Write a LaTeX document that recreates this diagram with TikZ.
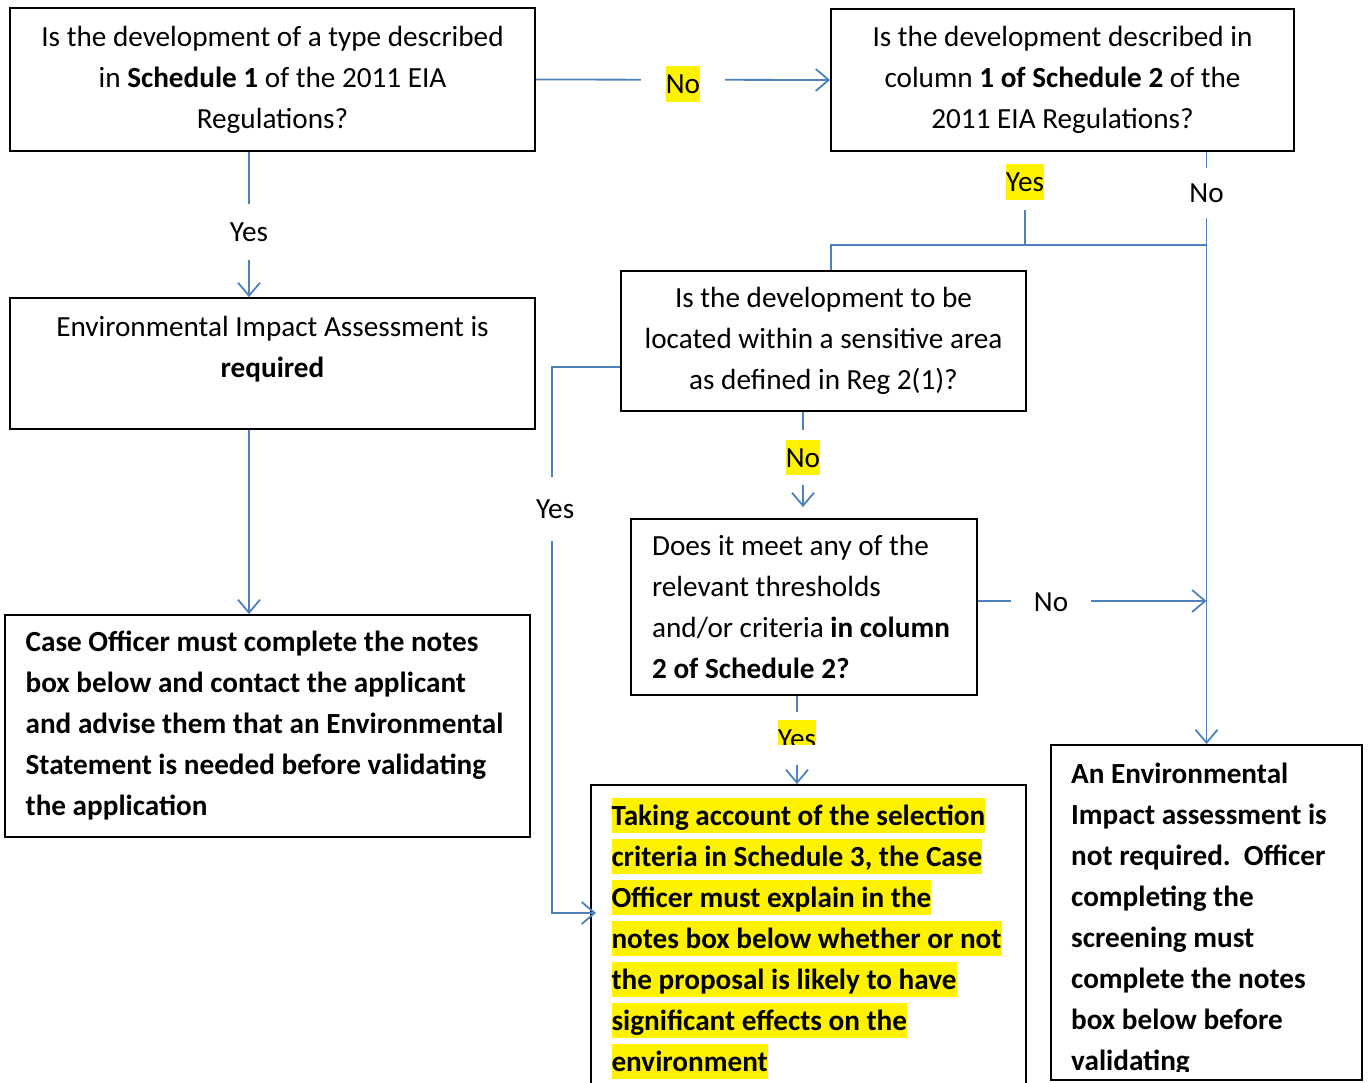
\documentclass[tikz,border=0pt]{standalone}
\usepackage{fontspec}
\setmainfont{Carlito}
\usepackage{tikz}
\usetikzlibrary{arrows.meta}
\definecolor{flowblue}{RGB}{79,129,189}
\newcommand{\bodyfont}{\fontsize{29.2}{41}\selectfont}
\newcommand{\lblstrut}{\rule[-7.8pt]{0pt}{35.6pt}}
\newcommand{\hilite}[1]{{\setlength{\fboxsep}{0pt}\colorbox{yellow}{\lblstrut #1}}}
\tikzset{
  box/.style={draw, line width=1.8pt, inner sep=0pt, align=center, font=\bodyfont,
              execute at begin node=\rule{0pt}{26pt}},
  leftbox/.style={box, align=left, font=\bodyfont\bfseries},
  flow/.style={draw=flowblue, line width=1.8pt},
  arr/.style={flow, -{Straight Barb[length=13pt, width=22pt]}},
  lbl/.style={fill=white, font=\bodyfont, inner xsep=4pt, inner ysep=10pt,
              execute at begin node=\lblstrut},
}

\begin{document}
\begin{tikzpicture}[x=1pt, y=-1pt]
  \useasboundingbox (0,0) rectangle (1369,1083);
  \clip (0,0) rectangle (1369,1083);

  % questions
  \node[box, minimum width=525, minimum height=143] (sched1) at (272.5,79.5)
    {Is the development of a type described\\in \textbf{Schedule 1} of the 2011 EIA\\Regulations?};
  \node[box, minimum width=463, minimum height=142] (sched2) at (1062.5,80)
    {Is the development described in\\column \textbf{1 of Schedule 2} of the\\2011 EIA Regulations?};
  \node[box, minimum width=405, minimum height=140] (sensitive) at (823.5,341)
    {Is the development to be\\located within a sensitive area\\as defined in Reg 2(1)?};
  \node[box, align=left, minimum width=346, minimum height=176] (thresh) at (804,607)
    {Does it meet any of the\\relevant thresholds\\and/or criteria \textbf{in column}\kern6pt\\\textbf{2 of Schedule 2?}};

  % outcomes
  \node[box, minimum width=525, minimum height=131] (eiareq) at (272.5,363.5)
    {Environmental Impact Assessment is\\\textbf{required}\\[-7pt]\mbox{}};
  \node[leftbox, minimum width=525, minimum height=222] (contact) at (267.5,726)
    {Case Officer must complete the notes\\box below and contact the applicant\\and advise them that an Environmental\kern6pt\\Statement is needed before validating\\the application};
  \node[leftbox, minimum width=435, minimum height=307] (explain) at (808.5,938.5)
    {\hilite{Taking account of the selection}\\\hilite{criteria in Schedule 3, the Case}\\\hilite{Officer must explain in the}\\\hilite{notes box below whether or not}\kern4pt\\\hilite{the proposal is likely to have}\\\hilite{significant effects on the}\\\hilite{environment}};
  \node[box, minimum width=311, minimum height=335] (notreq) at (1206.5,912.5) {};
  \begin{scope}
    \clip (notreq.north west) rectangle ([yshift=9pt]notreq.south east);
    \node[leftbox, draw=none] (notreqtext) at (1199,919.5)
      {An Environmental\\Impact assessment is\\not required.\ \ Officer\\completing the\\screening must\\complete the notes\\box below before\\validating};
  \end{scope}

  % connectors
  \draw[arr] (sched1.east) -- node[lbl, inner xsep=25pt, yshift=-4pt] {\hilite{No}} (sched2.west);
  \draw[arr] ([xshift=-23.5pt]sched1.south) -- node[lbl, pos=0.55] {Yes} ([xshift=-23.5pt]eiareq.north);
  \draw[arr] ([xshift=-23.5pt]eiareq.south) -- ([xshift=-18.5pt]contact.north);
  \draw[arr] (sched2.south -| notreq.north) -- node[lbl, pos=0.069, inner ysep=7pt] {No} (notreq.north);

  \node[lbl, inner ysep=10pt] (yessched2) at (1025,182) {\hilite{Yes}};
  \coordinate (split) at (1025,245);
  \draw[flow] (yessched2.south) -- (split) -| ([xshift=7.5pt]sensitive.north);
  \draw[flow] (split) -- (split -| notreq.north);

  \draw[arr, shorten >=11pt] ([xshift=-20.5pt]sensitive.south) -- node[lbl, pos=0.43] {\hilite{No}} ([xshift=-1pt]thresh.north);
  \draw[arr, shorten >=-6pt] ([yshift=-26pt]sensitive.west) -- ++(-68,0) |- node[lbl, pos=0.13, inner ysep=14pt, xshift=3pt] {Yes} ([yshift=25.5pt]explain.west);
  \draw[arr] ([yshift=6pt]thresh.east) -- node[lbl, pos=0.32, inner xsep=23pt] {No} ([yshift=6pt]thresh.east -| notreq.north);
  \draw[arr] ([xshift=-7pt]thresh.south) -- node[lbl, pos=0.48, inner ysep=8pt] (yesthresh) {\hilite{Yes}} ([xshift=-11.5pt]explain.north);
  \fill[white] (yesthresh.west |- 0,745) rectangle (yesthresh.south east);
\end{tikzpicture}
\end{document}
